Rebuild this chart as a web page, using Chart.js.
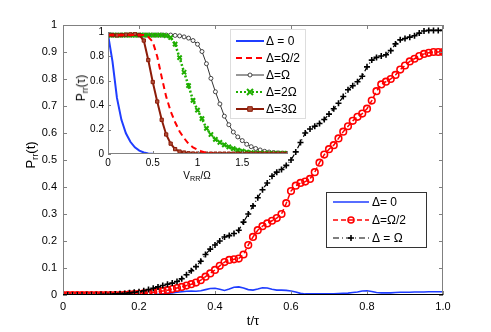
<!DOCTYPE html>
<html>
<head>
<meta charset="utf-8">
<script src="https://cdn.jsdelivr.net/npm/chart.js@4.4.1/dist/chart.umd.min.js"></script>
<style>
  html, body { margin: 0; padding: 0; background: #fff; }
  #wrap { position: relative; width: 491px; height: 332px; overflow: hidden; font-family: "Liberation Sans", Arial, Helvetica, sans-serif; }
  #main { position: absolute; left: 0; top: 0; }
  #inset { position: absolute; left: 60px; top: 20px; }
  .lbl { position: absolute; white-space: nowrap; color: #000; line-height: 1; transform: translate(-50%, -50%); }
  .rot { transform: translate(-50%, -50%) rotate(-90deg); }
  .lbl sub { font-size: 0.72em; vertical-align: -0.3em; }
</style>
</head>
<body>
<div id="wrap">
  <canvas id="main" width="491" height="332"></canvas>
  <canvas id="inset" width="250" height="150"></canvas>
  <div class="lbl rot" style="left:32px; top:155px; font-size:13px;">P<sub>rr</sub>(t)</div>
  <div class="lbl" style="left:253px; top:320px; font-size:13px;">t/τ</div>
  <div class="lbl rot" style="left:82px; top:88px; font-size:12px;">P<sub>rr</sub>(τ)</div>
  <div class="lbl" style="left:197px; top:177px; font-size:10px;">V<sub>RR</sub>/Ω</div>
</div>
<script>
// --- main panel data : P_rr(t) vs t/tau ---
const tValues = [0,0.0125,0.025,0.0375,0.05,0.0625,0.075,0.0875,0.1,0.1125,0.125,0.1375,0.15,0.1625,0.175,0.1875,
  0.2,0.2125,0.225,0.2375,0.25,0.2625,0.275,0.2875,0.3,0.3125,0.325,0.3375,0.35,0.3625,0.375,0.3875,
  0.4,0.4125,0.425,0.4375,0.45,0.4625,0.475,0.4875,0.5,0.5125,0.525,0.5375,0.55,0.5625,0.575,0.5875,
  0.6,0.6125,0.625,0.6375,0.65,0.6625,0.675,0.6875,0.7,0.7125,0.725,0.7375,0.75,0.7625,0.775,0.7875,
  0.8,0.8125,0.825,0.8375,0.85,0.8625,0.875,0.8875,0.9,0.9125,0.925,0.9375,0.95,0.9625,0.975,0.9875,1.0];

const pZero = [0,0,0,0,0,0,0,0,0,0,0,0,0,0,0,0,0,
  0.001,0.001,0.002,0.003,0.004,0.006,0.008,0.01,
  0.012,0.014,0.015,0.014,0.016,0.02,0.024,0.025,
  0.021,0.017,0.022,0.029,0.03,0.026,0.02,0.018,
  0.022,0.027,0.026,0.021,0.018,0.018,0.017,0.015,
  0.011,0.006,0.004,0.004,0.004,0.004,0.004,0.004,
  0.004,0.005,0.006,0.007,0.009,0.011,0.015,0.016,
  0.013,0.009,0.008,0.008,0.008,0.009,0.01,0.01,
  0.01,0.011,0.011,0.011,0.012,0.012,0.012,0.012];

const pHalf = [0,0,0,0,0,0,0,0,0,0,0,0,0,
  0.001,0.002,0.003,0.004,0.006,0.008,0.01,0.012,
  0.015,0.018,0.022,0.026,0.03,0.035,0.04,0.046,
  0.055,0.068,0.08,0.093,0.108,0.122,0.13,0.132,
  0.135,0.15,0.185,0.215,0.24,0.255,0.265,0.275,
  0.285,0.3,0.34,0.385,0.405,0.415,0.42,0.43,
  0.455,0.49,0.52,0.54,0.555,0.58,0.605,0.625,
  0.645,0.66,0.672,0.69,0.72,0.755,0.78,0.79,
  0.8,0.815,0.835,0.85,0.865,0.875,0.885,0.893,
  0.897,0.9,0.9,0.9];

const pOmega = [0,0,0,0,0,
  0.001,0.001,0.001,0.002,0.002,0.003,0.004,0.005,
  0.006,0.008,0.01,0.012,0.016,0.02,0.025,0.03,
  0.035,0.04,0.044,0.05,0.06,0.075,0.09,0.105,
  0.125,0.15,0.17,0.185,0.2,0.215,0.22,0.228,
  0.24,0.27,0.3,0.33,0.36,0.39,0.415,0.44,
  0.455,0.465,0.48,0.5,0.53,0.565,0.6,0.615,
  0.625,0.635,0.65,0.67,0.69,0.71,0.735,0.76,
  0.775,0.79,0.81,0.845,0.87,0.88,0.885,0.89,
  0.905,0.93,0.945,0.95,0.955,0.96,0.97,0.978,
  0.98,0.98,0.98,0.98];

const mainTicksX = [0, 0.2, 0.4, 0.6, 0.8, 1.0];
const mainTicksY = [0, 0.1, 0.2, 0.3, 0.4, 0.5, 0.6, 0.7, 0.8, 0.9, 1];
const mainLegend = ['Δ= 0', 'Δ=Ω/2', 'Δ = Ω'];

// --- inset data : P_rr(tau) vs V_RR/Omega ---
const vValues = [0,0.05,0.1,0.15,0.2,0.25,0.3,0.35,0.4,0.45,0.5,0.55,0.6,0.65,0.7,0.75,0.8,0.85,0.9,0.95,
  1,1.05,1.1,1.15,1.2,1.25,1.3,1.35,1.4,1.45,1.5,1.55,1.6,1.65,1.7,1.75,1.8,1.85,1.9,1.95,2];

const inZero = [0.98,0.76,0.46,0.28,0.17,0.1,0.055,0.028,0.012,0.005,0.002,
  0,0,0,0,0,0,0,0,0,0,0,0,0,0,0,0,0,0,0,0,0,0,0,0,0,0,0,0,0,0];

const inHalf = [0.975,0.975,0.975,0.975,0.975,0.975,0.975,0.975,0.975,
  0.96,0.92,0.8,0.63,0.47,0.35,0.26,0.185,0.13,0.083,0.055,0.035,0.02,0.01,0.004,0.001,
  0,0,0,0,0,0,0,0,0,0,0,0,0,0,0,0];

const inOmega = [0.975,0.975,0.975,0.975,0.975,0.975,0.975,0.975,0.975,0.975,0.975,0.975,0.975,0.975,0.975,
  0.972,0.968,0.96,0.95,0.93,0.9,0.84,0.74,0.62,0.51,0.41,0.31,0.24,0.18,0.14,0.11,
  0.08,0.06,0.045,0.033,0.022,0.016,0.012,0.009,0.007,0.006];

const in2Omega = [0.975,0.975,0.975,0.975,0.975,0.975,0.975,0.975,0.975,0.975,0.975,0.975,0.975,
  0.97,0.955,0.9,0.79,0.67,0.56,0.44,0.36,0.29,0.21,0.16,0.12,0.095,0.075,0.058,0.044,0.032,0.024,
  0.016,0.011,0.008,0.007,0.006,0.006,0.005,0.005,0.005,0.005];

const in3Omega = [0.975,0.975,0.972,0.975,0.978,0.98,0.985,0.975,0.93,0.77,0.59,0.43,0.28,0.16,0.085,0.04,
  0.02,0.012,0.006,0.004,0.003,0.003,0.003,0.003,0.003,0.003,0.003,0.003,0.003,0.003,0.003,
  0.003,0.003,0.003,0.003,0.003,0.003,0.003,0.003,0.003,0.003];

const insetTicksX = [0, 0.5, 1, 1.5, 2];
const insetTicksY = [0, 0.2, 0.4, 0.6, 0.8, 1];
const insetLegend = ['Δ = 0', 'Δ=Ω/2', 'Δ=Ω', 'Δ=2Ω', 'Δ=3Ω'];

const FONT = '"Liberation Sans", Arial, Helvetica, sans-serif';
const BLUE = '#1f3dff', RED = '#ff0000', GREEN = '#1fae00', BROWN = '#8c1c08';

function pts(xs, ys) { return xs.map((x, i) => ({ x: x, y: ys[i] })); }

// marker drawn in legends (same look as the chart's points)
function marker(ctx, style, x, y, r, color, fill, lw) {
    ctx.save();
    ctx.strokeStyle = color; ctx.fillStyle = fill; ctx.lineWidth = lw; ctx.setLineDash([]);
    ctx.beginPath();
    if (style === 'circle') { ctx.arc(x, y, r, 0, Math.PI * 2); ctx.fill(); ctx.stroke(); }
    else if (style === 'cross') { ctx.moveTo(x - r, y); ctx.lineTo(x + r, y); ctx.moveTo(x, y - r); ctx.lineTo(x, y + r); ctx.stroke(); }
    else if (style === 'crossRot') { ctx.moveTo(x - r, y - r); ctx.lineTo(x + r, y + r); ctx.moveTo(x - r, y + r); ctx.lineTo(x + r, y - r); ctx.stroke(); }
    else if (style === 'rect') { ctx.rect(x - r, y - r, 2 * r, 2 * r); ctx.fill(); ctx.stroke(); }
    ctx.restore();
}

// frame + inward ticks (matlab look)
function framePlugin(sides, ticksX, ticksY, len) {
    return {
        id: 'frame',
        afterDatasetsDraw(chart) {
            const { ctx, chartArea: a, scales } = chart;
            ctx.save();
            ctx.lineWidth = 1;
            ctx.setLineDash([]);
            ctx.strokeStyle = '#808080';
            ctx.beginPath();
            if (sides.top) { ctx.moveTo(a.left, a.top + 0.5); ctx.lineTo(a.right, a.top + 0.5); }
            if (sides.right) { ctx.moveTo(a.right - 0.5, a.top); ctx.lineTo(a.right - 0.5, a.bottom); }
            ctx.moveTo(a.left + 0.5, a.top); ctx.lineTo(a.left + 0.5, a.bottom);
            ticksX.forEach(v => {
                const px = Math.round(scales.x.getPixelForValue(v)) + 0.5;
                ctx.moveTo(px, a.bottom); ctx.lineTo(px, a.bottom - len);
                if (sides.top) { ctx.moveTo(px, a.top); ctx.lineTo(px, a.top + len); }
            });
            ticksY.forEach(v => {
                const py = Math.round(scales.y.getPixelForValue(v)) + 0.5;
                ctx.moveTo(a.left, py); ctx.lineTo(a.left + len, py);
                if (sides.right) { ctx.moveTo(a.right, py); ctx.lineTo(a.right - len, py); }
            });
            ctx.stroke();
            ctx.strokeStyle = sides.bottomColor;
            ctx.beginPath();
            ctx.moveTo(a.left, a.bottom - 0.5); ctx.lineTo(a.right, a.bottom - 0.5);
            ctx.stroke();
            ctx.restore();
        }
    };
}

function legendPlugin(box, items, rows, sample, textX, fontSize, border) {
    return {
        id: 'boxLegend',
        afterDraw(chart) {
            const ctx = chart.ctx;
            ctx.save();
            ctx.fillStyle = '#fff';
            ctx.fillRect(box.x, box.y, box.w, box.h);
            ctx.strokeStyle = border; ctx.lineWidth = 1;
            ctx.strokeRect(box.x + 0.5, box.y + 0.5, box.w, box.h);
            chart.data.datasets.forEach((ds, i) => {
                const y = rows[i];
                ctx.strokeStyle = ds.borderColor; ctx.lineWidth = Math.min(ds.borderWidth, 2);
                ctx.setLineDash(ds.borderDash || []);
                ctx.beginPath(); ctx.moveTo(sample[0], y); ctx.lineTo(sample[1], y); ctx.stroke();
                if (ds.pointRadius > 0) {
                    marker(ctx, ds.pointStyle, (sample[0] + sample[1]) / 2, y, Math.min(ds.pointRadius, 3),
                        ds.pointBorderColor || ds.borderColor, ds.pointBackgroundColor || '#fff', ds.pointBorderWidth || 1);
                }
                ctx.fillStyle = '#000';
                ctx.font = fontSize + 'px ' + FONT;
                ctx.textBaseline = 'middle';
                ctx.fillText(items[i], textX, y + 1);
            });
            ctx.restore();
        }
    };
}

const fmtMainX = v => v === 0 ? '0' : v.toFixed(1);
const fmtMainY = v => (v === 0 || v === 1) ? String(v) : v.toFixed(1);

new Chart(document.getElementById('main'), {
    type: 'line',
    data: {
        datasets: [
            { data: pts(tValues, pZero), borderColor: BLUE, borderWidth: 1.6, pointRadius: 0, order: 3 },
            { data: pts(tValues, pHalf), borderColor: RED, borderWidth: 1.5, borderDash: [5, 3],
              pointStyle: 'circle', pointRadius: 3.3, pointBorderWidth: 1.6, pointBorderColor: RED,
              pointBackgroundColor: 'rgba(255,255,255,0)', order: 2 },
            { data: pts(tValues, pOmega), borderColor: '#000', borderWidth: 1.2, borderDash: [6, 3, 1, 3],
              pointStyle: 'cross', pointRadius: 3, pointBorderWidth: 1.6, pointBorderColor: '#000', order: 1 }
        ]
    },
    options: {
        responsive: false, animation: false, devicePixelRatio: 1,
        layout: { padding: { left: 0, top: 25, right: 48, bottom: 0 } },
        plugins: { legend: { display: false }, tooltip: { enabled: false } },
        elements: { line: { tension: 0 } },
        scales: {
            x: {
                type: 'linear', min: 0, max: 1,
                afterBuildTicks: s => { s.ticks = mainTicksX.map(v => ({ value: v })); },
                afterFit: s => { s.height = 37; },
                grid: { display: false, drawTicks: false }, border: { display: false },
                ticks: { callback: fmtMainX, color: '#000', padding: 5, maxRotation: 0, font: { family: FONT, size: 11 } }
            },
            y: {
                min: 0, max: 1,
                afterBuildTicks: s => { s.ticks = mainTicksY.map(v => ({ value: v })); },
                afterFit: s => { s.width = 63; },
                grid: { display: false, drawTicks: false }, border: { display: false },
                ticks: { callback: fmtMainY, color: '#000', padding: 6, font: { family: FONT, size: 11 } }
            }
        }
    },
    plugins: [
        framePlugin({ top: true, right: true, bottomColor: '#000' }, mainTicksX, mainTicksY, 4),
        legendPlugin({ x: 326, y: 192, w: 100, h: 55 }, mainLegend, [202, 220, 238], [333, 369], 372, 12, '#333')
    ]
});

const fmtInsetX = v => v === 2 ? '' : String(v);
const fmtInsetY = v => (v === 0 || v === 1) ? String(v) : v.toFixed(1);

new Chart(document.getElementById('inset'), {
    type: 'line',
    data: {
        datasets: [
            { data: pts(vValues, inZero), borderColor: BLUE, borderWidth: 2, pointRadius: 0, order: 5 },
            { data: pts(vValues, inHalf), borderColor: RED, borderWidth: 2, borderDash: [6, 4], pointRadius: 0, order: 1 },
            { data: pts(vValues, inOmega), borderColor: '#333', borderWidth: 1, pointStyle: 'circle', pointRadius: 2,
              pointBorderWidth: 0.9, pointBorderColor: '#333', pointBackgroundColor: '#fff', order: 4 },
            { data: pts(vValues, in2Omega), borderColor: GREEN, borderWidth: 2.5, borderDash: [2, 2], pointStyle: 'crossRot',
              pointRadius: 3, pointBorderWidth: 2, pointBorderColor: GREEN, order: 3 },
            { data: pts(vValues, in3Omega), borderColor: BROWN, borderWidth: 2, pointStyle: 'rect', pointRadius: 2.3,
              pointBorderWidth: 1, pointBorderColor: BROWN, pointBackgroundColor: '#b0503c', order: 2 }
        ]
    },
    options: {
        responsive: false, animation: false, devicePixelRatio: 1,
        layout: { padding: { left: 0, top: 12, right: 23, bottom: 0 } },
        plugins: { legend: { display: false }, tooltip: { enabled: false } },
        elements: { line: { tension: 0 } },
        scales: {
            x: {
                type: 'linear', min: 0, max: 2,
                afterBuildTicks: s => { s.ticks = insetTicksX.map(v => ({ value: v })); },
                afterFit: s => { s.height = 16; },
                grid: { display: false, drawTicks: false }, border: { display: false },
                ticks: { callback: fmtInsetX, color: '#000', padding: 3, maxRotation: 0, font: { family: FONT, size: 10 } }
            },
            y: {
                min: 0, max: 1,
                afterBuildTicks: s => { s.ticks = insetTicksY.map(v => ({ value: v })); },
                afterFit: s => { s.width = 48; },
                grid: { display: false, drawTicks: false }, border: { display: false },
                ticks: { callback: fmtInsetY, color: '#000', padding: 4, font: { family: FONT, size: 10 } }
            }
        }
    },
    plugins: [
        framePlugin({ top: false, right: false, bottomColor: '#808080' }, insetTicksX, insetTicksY, 3),
        legendPlugin({ x: 170, y: 9, w: 75, h: 89 }, insetLegend, [21, 38, 55, 72, 89], [176, 204], 206, 12, '#ddd')
    ]
});
</script>
</body>
</html>
